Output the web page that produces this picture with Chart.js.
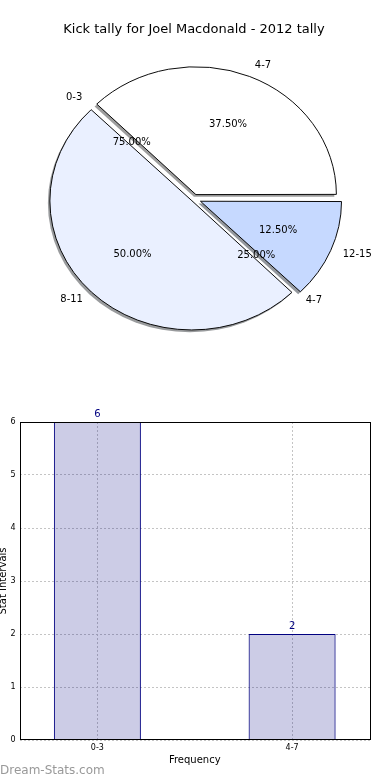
<!DOCTYPE html>
<html>
<head>
  <title>Kick tally - Joel Macdonald</title>
  <script src="https://cdn.jsdelivr.net/npm/chart.js"></script>
  <style>
    body { margin: 0; background: #fff; font-family: "DejaVu Sans", sans-serif; }
    #wrap { position: relative; width: 390px; height: 780px; overflow: hidden; }
    .box { position: absolute; left: 0; width: 390px; height: 390px; }
    #pieBox { top: 0; }
    #barBox { top: 390px; }
    #brand { position: absolute; left: 0; top: 763px; font-size: 12px; color: #999; }
  </style>
</head>
<body>
<div id="wrap">
  <div class="box" id="pieBox"><canvas id="pieChart" width="390" height="390"></canvas></div>
  <div class="box" id="barBox"><canvas id="barChart" width="390" height="390"></canvas></div>
  <div id="brand">Dream-Stats.com</div>
</div>

<script>
  // pie data (order as matplotlib draws it, counter-clockwise from 3 o'clock)
  const pieLabels = ["4-7", "8-11", "12-15"];
  const pieValues = [3, 4, 1];

  // bar data
  const barCats = ["0-3", "4-7"];
  const barCounts = [6, 2];
  const yTicks = [0, 1, 2, 3, 4, 5, 6];

  const FONT = "'DejaVu Sans', sans-serif";
  const SQ = 0.91; // vertical squash of the pie (drawn as ellipse)

  // styles, kept in the same order as pieLabels
  const pieColors = ["#ffffff", "#eaf0ff", "#c6d9ff"];
  const pieOffsets = [20, 12, 28];

  // squash the pie into an ellipse + matplotlib style shadow
  const ellipsePlugin = {
    id: "ellipse",
    beforeDatasetsDraw(chart) {
      const ctx = chart.ctx;
      const arcs = chart.getDatasetMeta(0).data;
      const cy = arcs[0].y;
      ctx.save();
      ctx.translate(0, cy);
      ctx.scale(1, SQ);
      ctx.translate(0, -cy);
      arcs.forEach(arc => {
        const o = (arc.options.offset || 0) / 4;
        const mid = (arc.startAngle + arc.endAngle) / 2;
        const circ = arc.endAngle - arc.startAngle;
        const fix = 1 - Math.sin(Math.min(Math.PI, circ));
        const r = arc.outerRadius + o * fix;
        const x = arc.x + Math.cos(mid) * o - 2;
        const y = arc.y + Math.sin(mid) * o + 2.5;
        const rgb = Chart.helpers.color(arc.options.backgroundColor).rgb;
        ctx.beginPath();
        ctx.moveTo(x, y);
        ctx.arc(x, y, r, arc.startAngle, arc.endAngle);
        ctx.closePath();
        ctx.fillStyle = `rgba(${Math.round(rgb.r * 0.3)},${Math.round(rgb.g * 0.3)},${Math.round(rgb.b * 0.3)},0.55)`;
        ctx.fill();
      });
    },
    afterDatasetsDraw(chart) {
      chart.ctx.restore();
    }
  };

  function drawPieText(ctx, cx, cy, ang, r, text, align) {
    const x = cx + Math.cos(ang) * r;
    const y = cy + Math.sin(ang) * r * SQ;
    let a = "center";
    if (align) a = Math.cos(ang) >= 0 ? "left" : "right";
    ctx.textAlign = a;
    ctx.fillText(text, x, y);
  }

  const pieLabelPlugin = {
    id: "pieLabels",
    afterDraw(chart) {
      const ctx = chart.ctx;
      const meta = chart.getDatasetMeta(0);
      const arcs = meta.data;
      const baseR = arcs[0].outerRadius + 1;
      const cx = arcs[0].x, cy = arcs[0].y;
      const total = pieValues.reduce((a, b) => a + b, 0);
      ctx.save();
      ctx.fillStyle = "#000";
      ctx.font = "10px " + FONT;
      ctx.textBaseline = "middle";
      arcs.forEach((arc, i) => {
        const o = (arc.options.offset || 0) / 4;
        const mid = (arc.startAngle + arc.endAngle) / 2;
        const v = chart.data.datasets[0].data[i];
        drawPieText(ctx, cx, cy, mid, baseR * 1.1 + o, chart.data.labels[i], true);
        drawPieText(ctx, cx, cy, mid, baseR * 0.6 + o, (v / total * 100).toFixed(2) + "%", false);
      });
      // second tally (same data as the bar chart) laid over the pie
      const total2 = barCounts.reduce((a, b) => a + b, 0);
      let start = 0;
      barCounts.forEach((v, i) => {
        const frac = v / total2;
        const mid = -(start + frac / 2) * Math.PI * 2;
        drawPieText(ctx, cx, cy, mid, baseR * 1.1 + 4, barCats[i], true);
        drawPieText(ctx, cx, cy, mid, baseR * 0.6 + 4, (frac * 100).toFixed(2) + "%", false);
        start += frac;
      });
      ctx.restore();
    }
  };

  new Chart(document.getElementById("pieChart"), {
    type: "pie",
    data: {
      labels: pieLabels.slice().reverse(),
      datasets: [{
        data: pieValues.slice().reverse(),
        backgroundColor: pieColors.slice().reverse(),
        offset: pieOffsets.slice().reverse(),
        borderColor: "#000",
        borderWidth: 1
      }]
    },
    options: {
      responsive: false,
      animation: false,
      events: [],
      rotation: 90,
      radius: 139,
      layout: { padding: { left: 50, right: 52, top: 0, bottom: 52 } },
      plugins: {
        legend: { display: false },
        tooltip: { enabled: false },
        title: {
          display: true,
          text: "Kick tally for Joel Macdonald - 2012 tally",
          color: "#000",
          font: { family: FONT, size: 13, weight: "normal" },
          padding: { top: 22, bottom: 22 }
        }
      }
    },
    plugins: [ellipsePlugin, pieLabelPlugin]
  });

  // frame + value labels for the bar chart
  const barExtras = {
    id: "barExtras",
    afterDraw(chart) {
      const ctx = chart.ctx;
      const a = chart.chartArea;
      ctx.save();
      ctx.strokeStyle = "#000";
      ctx.lineWidth = 1;
      ctx.strokeRect(Math.round(a.left) + 0.5, Math.round(a.top) + 0.5,
        Math.round(a.right - a.left) - 1, Math.round(a.bottom - a.top) - 1);
      ctx.fillStyle = "#000080";
      ctx.font = "10px " + FONT;
      ctx.textAlign = "center";
      ctx.textBaseline = "bottom";
      chart.getDatasetMeta(0).data.forEach((bar, i) => {
        ctx.fillText(String(barCounts[i]), bar.x, bar.y - 3);
      });
      ctx.restore();
    }
  };

  new Chart(document.getElementById("barChart"), {
    type: "bar",
    data: {
      datasets: [{
        data: barCats.map((c, i) => ({ x: i, y: barCounts[i] })),
        backgroundColor: "rgba(0,0,128,0.2)",
        borderColor: "#000080",
        borderWidth: 1,
        categoryPercentage: 1,
        barPercentage: 0.447
      }]
    },
    options: {
      responsive: false,
      animation: false,
      events: [],
      layout: { padding: { left: 0, right: 20, top: 32, bottom: 0 } },
      plugins: { legend: { display: false }, tooltip: { enabled: false } },
      scales: {
        x: {
          type: "linear",
          min: -0.4,
          max: 1.4,
          offset: false,
          afterBuildTicks: s => { s.ticks = barCats.map((c, i) => ({ value: i })); },
          afterFit: s => { s.height = 40; },
          ticks: {
            callback: v => barCats[v],
            color: "#000",
            font: { family: FONT, size: 8 },
            padding: 3,
            maxRotation: 0
          },
          grid: { color: "#c4c4c4", offset: false, drawTicks: false },
          border: { display: false, dash: [2, 2] },
          title: {
            display: true,
            text: "Frequency",
            color: "#000",
            font: { family: FONT, size: 10 },
            padding: { top: 0, bottom: 14 }
          }
        },
        y: {
          min: 0,
          max: 6,
          afterBuildTicks: s => { s.ticks = yTicks.map(v => ({ value: v })); },
          afterFit: s => { s.width = 19.5; },
          ticks: {
            color: "#000",
            font: { family: FONT, size: 8 },
            padding: 4
          },
          grid: { color: "#c4c4c4", drawTicks: false },
          border: { display: false, dash: [2, 2] },
          title: {
            display: true,
            text: "Stat Intervals",
            color: "#000",
            font: { family: FONT, size: 10 },
            padding: { top: -2.5, bottom: 0 }
          }
        }
      }
    },
    plugins: [barExtras]
  });
</script>
</body>
</html>
